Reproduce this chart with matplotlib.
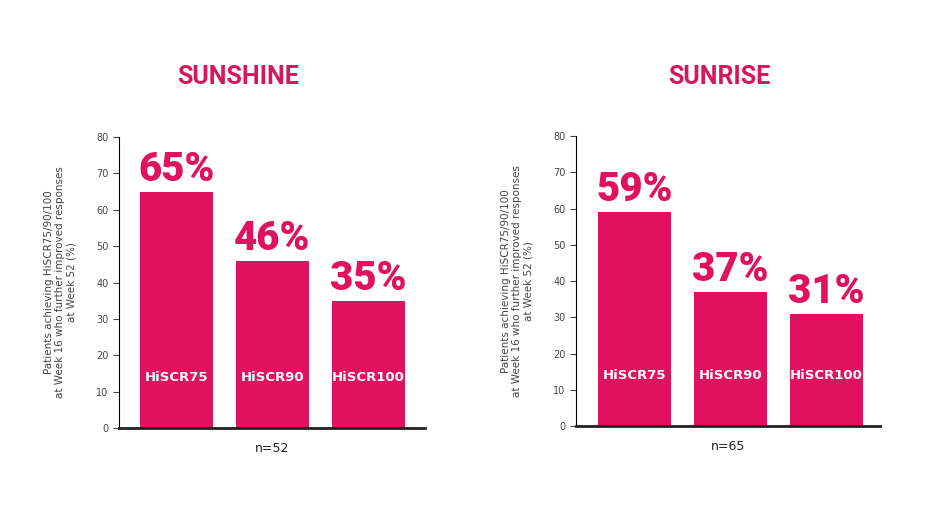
import matplotlib.pyplot as plt

categories = ["HiSCR75", "HiSCR90", "HiSCR100"]
sunshine = [65, 46, 35]
sunrise = [59, 37, 31]
panels = [("SUNSHINE", sunshine, "n=52", [0.1284, 0.1785, 0.330, 0.5585], (-0.6, 2.59), 0.257),
          ("SUNRISE", sunrise, "n=65", [0.6214, 0.1823, 0.328, 0.5566], (-0.61, 2.56), 0.776)]

pink = "#e0115f"
fig = plt.figure(figsize=(9.27, 5.21), dpi=100)

for title, values, n, rect, xlim, tx in panels:
    ax = fig.add_axes(rect)
    x = range(len(categories))
    ax.bar(x, values, width=0.76, color=pink)
    for i, (c, v) in enumerate(zip(categories, values)):
        ax.text(i, v + 0.8, f"{v}%", ha="center", va="bottom", color=pink,
                fontsize=29, fontweight="heavy", family="Roboto")
        ax.text(i, 14, c, ha="center", va="center", color="white",
                fontsize=9.5, fontweight="bold")
    ax.set_xlim(*xlim)
    ax.set_ylim(0, 80)
    ax.set_yticks(range(0, 81, 10))
    ax.tick_params(axis="y", labelsize=7, colors="#444444", length=4, width=0.8)
    ax.tick_params(axis="x", bottom=False, labelbottom=False)
    for s in ["top", "right"]:
        ax.spines[s].set_visible(False)
    ax.spines["left"].set_linewidth(0.8)
    ax.spines["bottom"].set_linewidth(2)
    ax.spines["bottom"].set_color("#222222")
    ax.set_xlabel(n, fontsize=9, labelpad=10, color="#222222")
    ax.set_ylabel("Patients achieving HiSCR75/90/100\nat Week 16 who further improved responses\nat Week 52 (%)",
                  fontsize=7.5, color="#444444", labelpad=14)
    fig.text(tx, 0.852, title, ha="center", va="center", color="#d6175b",
             fontsize=18, fontweight="bold", family="Roboto")

fig.savefig("out.png", dpi=100)
